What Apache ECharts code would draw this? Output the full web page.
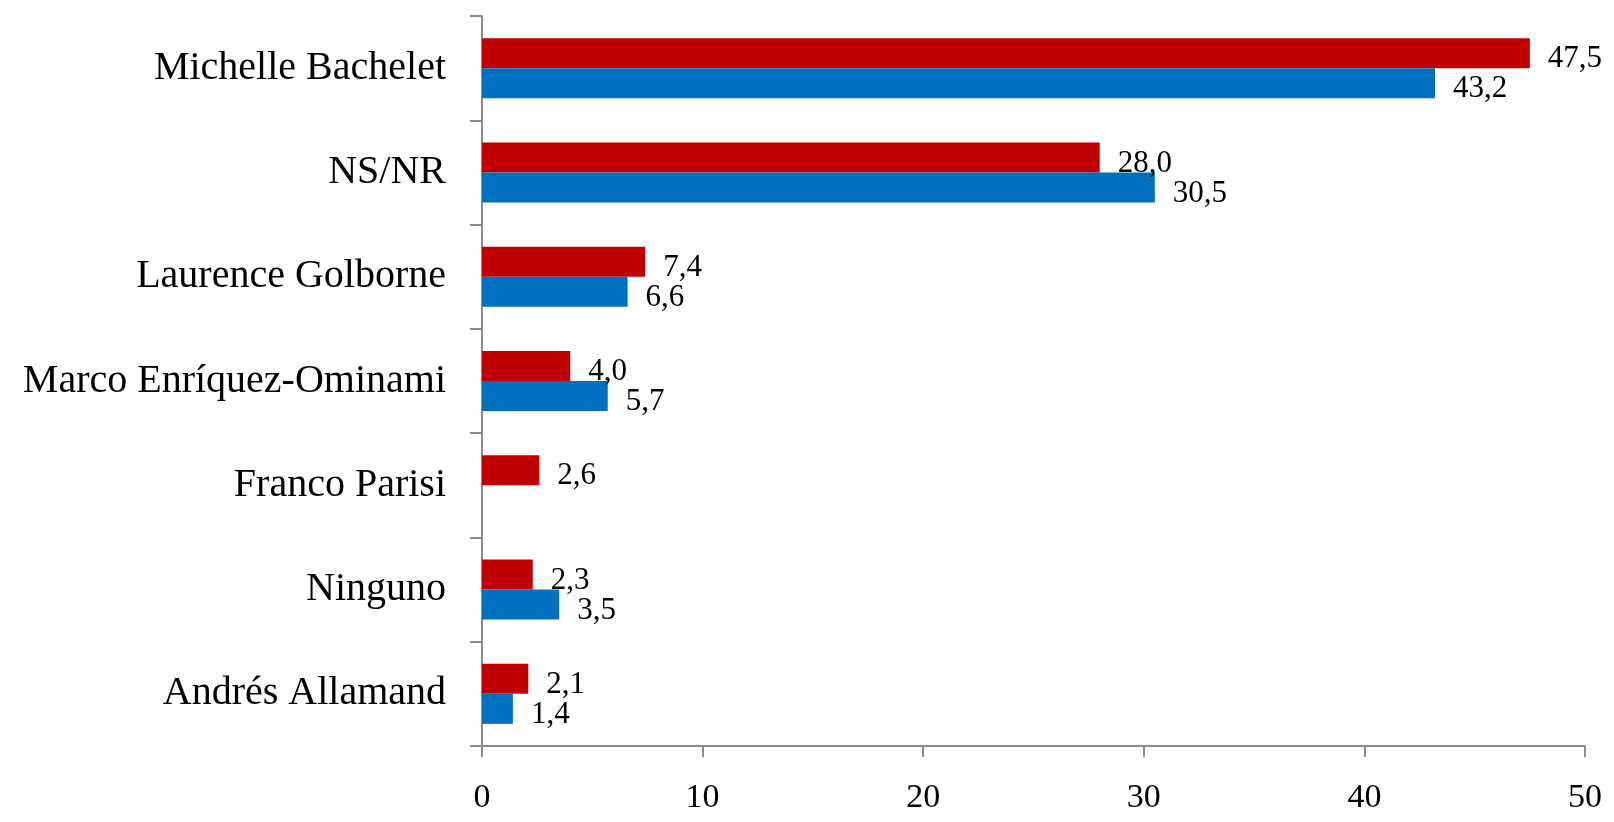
<!DOCTYPE html>
<html>
<head>
<meta charset="utf-8">
<script src="https://cdn.jsdelivr.net/npm/echarts@6/dist/echarts.min.js"></script>
<style>
html,body{margin:0;padding:0;background:#fff;}
#chart{width:1614px;height:822px;}
</style>
</head>
<body>
<div id="chart"></div>
<script>
const categories = ['Michelle Bachelet', 'NS/NR', 'Laurence Golborne', 'Marco Enríquez-Ominami', 'Franco Parisi', 'Ninguno', 'Andrés Allamand'];
const redValues = [47.5, 28.0, 7.4, 4.0, 2.6, 2.3, 2.1];
const blueValues = [43.2, 30.5, 6.6, 5.7, null, 3.5, 1.4];
const xTicks = [0, 10, 20, 30, 40, 50];

const FONT = '"Liberation Serif", serif';
const chart = echarts.init(document.getElementById('chart'));
const fmt = p => (p.value == null ? '' : Number(p.value).toFixed(1).replace('.', ','));
const labelStyle = {
  show: true, position: 'right', distance: 18, offset: [0, 6],
  color: '#000', fontFamily: FONT, fontSize: 31, formatter: fmt
};
chart.setOption({
  animation: false,
  backgroundColor: '#fff',
  grid: { left: 482, right: 29, top: 16, bottom: 76, containLabel: false },
  xAxis: {
    type: 'value', min: xTicks[0], max: xTicks[xTicks.length - 1], interval: 10,
    axisLine: { show: true, lineStyle: { color: '#8c8c8c', width: 2 } },
    axisTick: { show: true, length: 11, lineStyle: { color: '#8c8c8c', width: 2 } },
    splitLine: { show: false },
    axisLabel: { color: '#000', fontFamily: FONT, fontSize: 34, margin: 35 }
  },
  yAxis: {
    type: 'category', data: categories, inverse: true,
    axisLine: { show: true, lineStyle: { color: '#8c8c8c', width: 2 } },
    axisTick: { show: true, length: 12, lineStyle: { color: '#8c8c8c', width: 2 } },
    axisLabel: { color: '#000', fontFamily: FONT, fontSize: 40, margin: 36 }
  },
  series: [
    { name: 'Rojo', type: 'bar', data: redValues, barWidth: 30, barGap: '0%',
      itemStyle: { color: '#C00000' }, label: labelStyle },
    { name: 'Azul', type: 'bar', data: blueValues, barWidth: 30, barGap: '0%',
      itemStyle: { color: '#0070C0' }, label: labelStyle }
  ]
});
</script>
</body>
</html>
